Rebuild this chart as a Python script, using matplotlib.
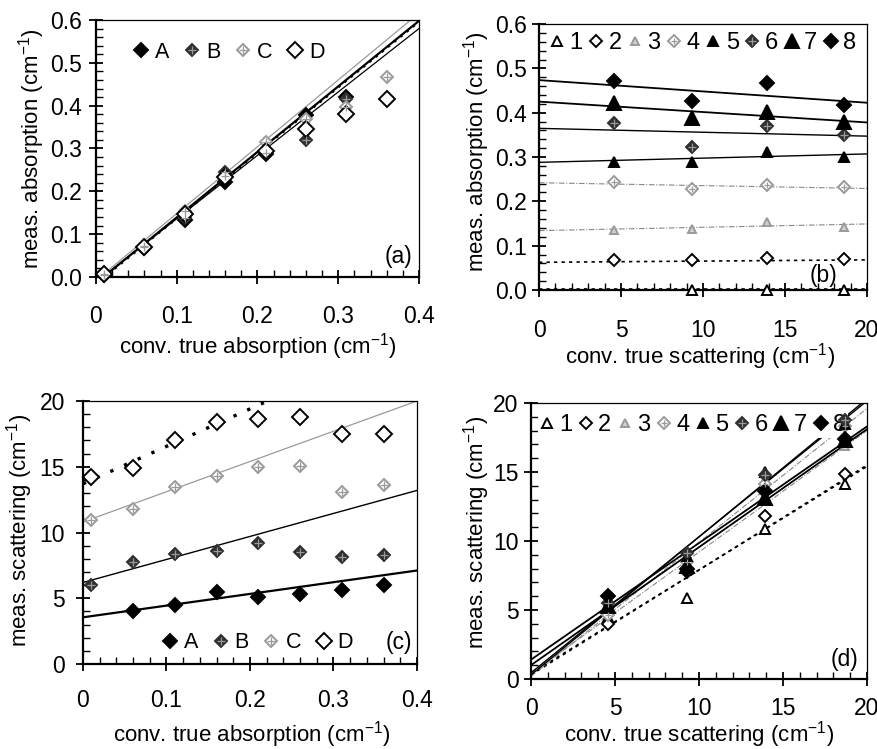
import numpy as np
import matplotlib
matplotlib.use('Agg')
import matplotlib.pyplot as plt
from matplotlib.ticker import MultipleLocator

plt.rcParams['font.family'] = ['Liberation Sans', 'DejaVu Sans']
plt.rcParams['mathtext.default'] = 'regular'

nan = np.nan

# panel (a): measured vs true absorption, series A-D
a_x = [0.01, 0.06, 0.11, 0.16, 0.21, 0.26, 0.31, 0.36]
a_A = [0.005, 0.068, 0.133, 0.222, 0.287, 0.378, 0.420, nan]
a_B = [0.004, 0.070, 0.138, 0.245, 0.290, 0.320, 0.415, nan]
a_C = [0.008, 0.072, 0.155, 0.236, 0.316, 0.370, 0.398, 0.468]
a_D = [0.007, 0.071, 0.147, 0.234, 0.295, 0.345, 0.381, 0.416]
a_slope = [1.53, 1.48, 1.56, 1.53]
a_icpt = [-0.014, -0.012, -0.008, -0.016]

# panel (b): measured absorption vs true scattering, series 1-8
b_x = [4.6, 9.3, 13.9, 18.6]
b_vals = [
    [nan, 0.000, 0.000, 0.001],
    [0.068, 0.068, 0.0715, 0.070],
    [0.135, 0.137, 0.154, 0.143],
    [0.244, 0.227, 0.238, 0.233],
    [0.289, 0.289, 0.312, 0.301],
    [0.377, 0.323, 0.370, 0.350],
    [0.422, 0.387, 0.402, 0.380],
    [0.471, 0.426, 0.468, 0.417],
]
b_icpt = [0.002, 0.0625, 0.134, 0.242, 0.288, 0.3647, 0.425, 0.4735]
b_slope = [0.0, 0.000275, 0.00075, -0.00065, 0.00095, -0.00088, -0.00235, -0.00255]

# panel (c): measured scattering vs true absorption, series A-D
c_x = [0.01, 0.06, 0.11, 0.16, 0.21, 0.26, 0.31, 0.36]
c_A = [nan, 4.03, 4.49, 5.45, 5.12, 5.32, 5.63, 6.00]
c_B = [6.00, 7.78, 8.37, 8.60, 9.22, 8.55, 8.16, 8.29]
c_C = [10.95, 11.76, 13.48, 14.30, 15.00, 15.05, 13.10, 13.60]
c_D = [14.20, 14.88, 17.03, 18.38, 18.60, 18.80, 17.47, 17.47]
c_slope = [8.9, 17.5, 23.0, 28.5]
c_icpt = [3.55, 6.2, 10.8, 13.7]

# panel (d): measured vs true scattering, series 1-8
d_x = [4.6, 9.3, 13.9, 18.7]
d_vals = [
    [4.5, 5.89, 10.85, 14.10],
    [3.99, 7.78, 11.83, 14.86],
    [5.0, 8.9, 14.3, 16.9],
    [4.6, 8.5, 14.1, 18.3],
    [5.2, 8.9, 15.0, 18.5],
    [5.5, 9.1, 14.8, 18.8],
    [5.3, 8.2, 13.1, 17.3],
    [6.0, 8.0, 13.6, 17.4],
]
d_slope = [0.75, 0.76, 0.88, 0.97, 1.00, 0.985, 0.845, 0.855]
d_icpt = [0.4, 0.3, 0.4, 0.2, 0.3, 0.45, 1.4, 1.0]

letters = ['A', 'B', 'C', 'D']
numbers = ['1', '2', '3', '4', '5', '6', '7', '8']

GRAY = '#9a9a9a'
TICK_FS = 16.5
LABEL_FS = 16

# marker styles: (marker, size, face, edge, overlay cross colour or None)
letter_mk = [
    ('D', 7.0, 'black', 'black', None),
    ('D', 6.5, '#303030', '#303030', '#9a9a9a'),
    ('D', 6.5, 'white', GRAY, GRAY),
    ('D', 8.0, 'white', 'black', None),
]
number_mk = [
    ('^', 7.5, 'white', 'black', None),
    ('D', 6.5, 'white', 'black', None),
    ('^', 6.0, '#d0d0d0', GRAY, None),
    ('D', 6.0, 'white', GRAY, GRAY),
    ('^', 7.0, 'black', 'black', None),
    ('D', 6.5, '#303030', '#303030', '#9a9a9a'),
    ('^', 9.5, 'black', 'black', None),
    ('D', 7.5, 'black', 'black', None),
]
letter_ls = [('-', 1.6, 'black'), ('-', 0.9, 'black'), ('-', 0.9, GRAY), ((0, (1, 2.2)), 1.8, 'black')]
c_ls = [('-', 1.6, 'black'), ('-', 1.0, 'black'), ('-', 0.9, GRAY), ((0, (1, 3.5)), 2.4, 'black')]
number_ls = [((0, (2, 2.5)), 1.2, 'black'), ((0, (2, 2.5)), 1.2, 'black'),
             ((0, (5, 1.5, 1, 1.5)), 0.8, '#888888'), ((0, (5, 1.5, 1, 1.5)), 0.8, '#888888'),
             ('-', 1.0, 'black'), ('-', 1.0, 'black'), ('-', 1.3, 'black'), ('-', 1.3, 'black')]


def scatter_series(ax, x, y, style):
    m, ms, fc, ec, cross = style
    h = ax.plot(x, y, linestyle='none', marker=m, ms=ms, mfc=fc, mec=ec, mew=1.4,
                zorder=6, clip_on=False)[0]
    if cross is not None:
        h2 = ax.plot(x, y, linestyle='none', marker='+', ms=ms * 0.8, mec=cross, mew=0.9,
                     zorder=7, clip_on=False)[0]
        return (h, h2)
    return h


def fit_line(ax, xmax, slope, icpt, ls):
    xs = np.array([0.0, xmax])
    ax.plot(xs, icpt + slope * xs, linestyle=ls[0], lw=ls[1], color=ls[2], zorder=2)


def style_axis(ax, xmax, xmaj, xmin, ymax, ymaj, ymin, xlabels, ylabels, xpad, ypad):
    ax.set_xlim(0, xmax)
    ax.set_ylim(0, ymax)
    ax.xaxis.set_minor_locator(MultipleLocator(xmin))
    ax.yaxis.set_minor_locator(MultipleLocator(ymin))
    ax.set_xticks(np.arange(len(xlabels)) * xmaj)
    ax.set_xticklabels(xlabels)
    ax.set_yticks(np.arange(len(ylabels)) * ymaj)
    ax.set_yticklabels(ylabels)
    ax.tick_params(which='major', direction='inout', length=10, width=1.3, labelsize=TICK_FS,
                   top=False, right=False)
    ax.tick_params(which='minor', direction='in', length=5, width=1.0, top=False, right=False)
    ax.tick_params(axis='x', which='major', pad=xpad)
    ax.tick_params(axis='y', which='major', pad=ypad)
    for s in ['left', 'bottom']:
        ax.spines[s].set_linewidth(1.6)
    for s in ['top', 'right']:
        ax.spines[s].set_linewidth(0.9)


def set_labels(ax, xl, yl, xpos, ypos):
    ax.set_xlabel(xl, fontsize=LABEL_FS)
    ax.set_ylabel(yl, fontsize=LABEL_FS)
    ax.xaxis.set_label_coords(*xpos)
    ax.yaxis.set_label_coords(*ypos)
    ax.xaxis.label.set_va('center')
    ax.yaxis.label.set_va('center')


leg_letters = dict(frameon=False, fontsize=15.5, handlelength=0.6, handletextpad=0.35,
                   columnspacing=0.75, borderpad=0, borderaxespad=0, numpoints=1)
leg_numbers = dict(fontsize=17, handlelength=0.55, handletextpad=0.25,
                   columnspacing=0.3, borderaxespad=0, numpoints=1)

fig = plt.figure(figsize=(8.78, 7.49), dpi=100)

# ---------------- (a)
ax = fig.add_axes([0.1093, 0.6302, 0.3679, 0.3431])
a_series = [a_A, a_B, a_C, a_D]
for i in range(4):
    fit_line(ax, 0.4, a_slope[i], a_icpt[i], letter_ls[i])
handles = [scatter_series(ax, a_x, a_series[i], letter_mk[i]) for i in range(4)]
style_axis(ax, 0.4, 0.1, 0.02, 0.6, 0.1, 0.02,
           ['0', '0.1', '0.2', '0.3', '0.4'], ['0.0', '0.1', '0.2', '0.3', '0.4', '0.5', '0.6'], 15, 5)
ax.legend(handles, letters, loc='center left', bbox_to_anchor=(0.12, 0.875), ncol=4, **leg_letters)
ax.text(0.98, 0.078, '(a)', transform=ax.transAxes, ha='right', va='center', fontsize=16.5)
set_labels(ax, 'conv. true absorption (cm$^{-1}$)', 'meas. absorption (cm$^{-1}$)',
           (0.5, -0.27), (-0.198, 0.5))

# ---------------- (b)
ax = fig.add_axes([0.6139, 0.6128, 0.3736, 0.3551])
for i in range(8):
    fit_line(ax, 20, b_slope[i], b_icpt[i], number_ls[i])
handles = [scatter_series(ax, b_x, b_vals[i], number_mk[i]) for i in range(8)]
style_axis(ax, 20, 5, 1, 0.6, 0.1, 0.02,
           ['0', '5', '10', '15', '20'], ['0.0', '0.1', '0.2', '0.3', '0.4', '0.5', '0.6'], 16, 4)
ax.legend(handles, numbers, loc='center left', bbox_to_anchor=(0.035, 0.929), ncol=8,
          frameon=False, borderpad=0, **leg_numbers)
ax.text(0.91, 0.056, '(b)', transform=ax.transAxes, ha='right', va='center', fontsize=16.5)
set_labels(ax, 'conv. true scattering (cm$^{-1}$)', 'meas. absorption (cm$^{-1}$)',
           (0.49, -0.25), (-0.19, 0.52))

# ---------------- (c)
ax = fig.add_axes([0.0945, 0.1135, 0.3804, 0.3511])
c_series = [c_A, c_B, c_C, c_D]
for i in range(4):
    fit_line(ax, 0.4, c_slope[i], c_icpt[i], c_ls[i])
handles = [scatter_series(ax, c_x, c_series[i], letter_mk[i]) for i in range(4)]
style_axis(ax, 0.4, 0.1, 0.02, 20, 5, 1,
           ['0', '0.1', '0.2', '0.3', '0.4'], ['0', '5', '10', '15', '20'], 13, 8)
ax.legend(handles, letters, loc='center left', bbox_to_anchor=(0.24, 0.08), ncol=4, **leg_letters)
ax.text(0.985, 0.08, '(c)', transform=ax.transAxes, ha='right', va='center', fontsize=16.5)
set_labels(ax, 'conv. true absorption (cm$^{-1}$)', 'meas. scattering (cm$^{-1}$)',
           (0.505, -0.27), (-0.19, 0.506))

# ---------------- (d)
ax = fig.add_axes([0.6048, 0.0935, 0.3827, 0.3685])
for i in range(8):
    fit_line(ax, 20, d_slope[i], d_icpt[i], number_ls[i])
handles = [scatter_series(ax, d_x, d_vals[i], number_mk[i]) for i in range(8)]
style_axis(ax, 20, 5, 1, 20, 5, 1,
           ['0', '5', '10', '15', '20'], ['0', '5', '10', '15', '20'], 8, 4)
leg = ax.legend(handles, numbers, loc='center left', bbox_to_anchor=(0.02, 0.92), ncol=8,
                frameon=True, borderpad=0.1, fancybox=False, **leg_numbers)
leg.get_frame().set_facecolor('white')
leg.get_frame().set_edgecolor('none')
leg.get_frame().set_alpha(1)
leg.set_zorder(4)
ax.text(0.973, 0.069, '(d)', transform=ax.transAxes, ha='right', va='center', fontsize=16.5)
set_labels(ax, 'conv. true scattering (cm$^{-1}$)', 'meas. scattering (cm$^{-1}$)',
           (0.50, -0.2), (-0.162, 0.53))

fig.savefig('out.png', dpi=100)
